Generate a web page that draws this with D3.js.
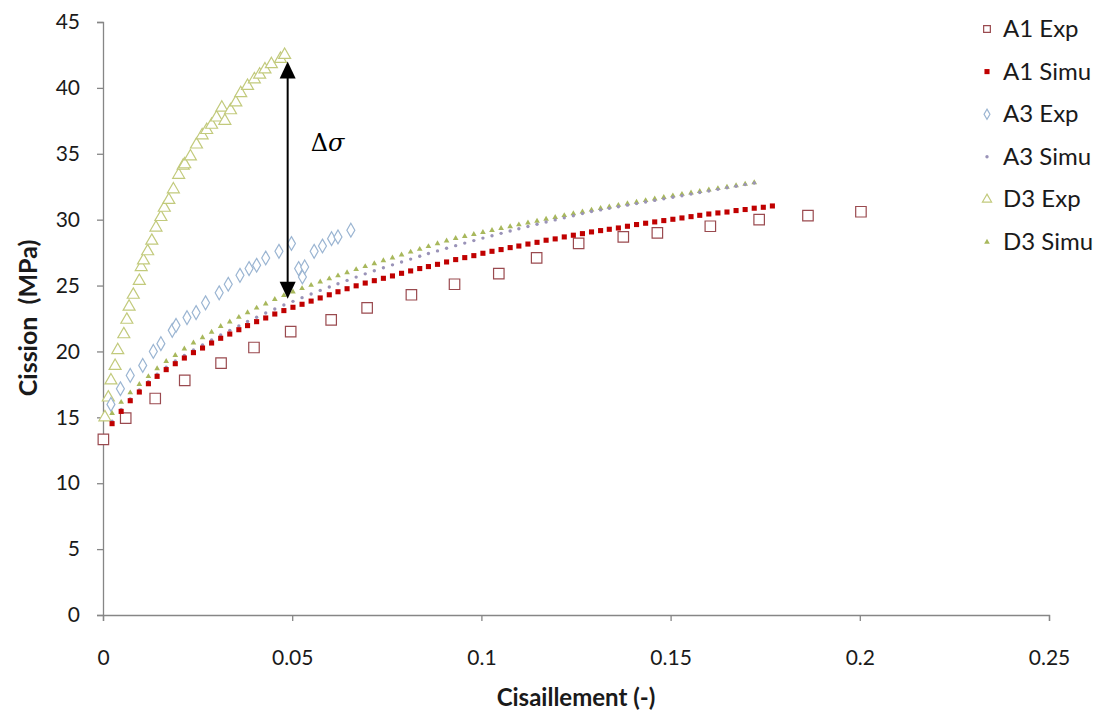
<!DOCTYPE html>
<html><head><meta charset="utf-8">
<script src="https://cdn.jsdelivr.net/npm/d3@7"></script>
<style>
html,body{margin:0;padding:0;background:#fff;}
svg{display:block;font-family:Lato,"Open Sans",sans-serif;}
</style></head>
<body>
<svg id="chart" width="1105" height="715"></svg>
<script>
// ---- Data ----
const xTicks = [0, 0.05, 0.1, 0.15, 0.2, 0.25];
const xTickLabels = ["0", "0.05", "0.1", "0.15", "0.2", "0.25"];
const yTicks = [0, 5, 10, 15, 20, 25, 30, 35, 40, 45];
const seriesNames = ["A1 Exp", "A1 Simu", "A3 Exp", "A3 Simu", "D3 Exp", "D3 Simu"];

const a1ExpX = [0.0001,0.006,0.0138,0.0216,0.0312,0.0399,0.0496,0.0603,0.0698,0.0815,0.0929,0.1046,0.1146,0.1257,0.1375,0.1465,0.1605,0.1734,0.1863,0.2003];
const a1ExpY = [13.33,14.94,16.43,17.8,19.12,20.3,21.5,22.4,23.3,24.3,25.1,25.9,27.1,28.2,28.7,29.0,29.5,30.0,30.3,30.6];

const a3ExpX = [0.0021,0.0046,0.0072,0.0105,0.0133,0.0153,0.0183,0.0193,0.0222,0.0246,0.0271,0.0307,0.0331,0.0362,0.0386,0.0406,0.0430,0.0465,0.0498,0.0517,0.0527,0.0533,0.0558,0.0580,0.0604,0.0621,0.0655];
const a3ExpY = [15.98,17.17,18.18,18.94,20.0,20.59,21.6,21.98,22.57,22.95,23.69,24.45,25.1,25.78,26.29,26.54,27.09,27.6,28.19,26.29,25.65,26.41,27.6,28.0,28.56,28.69,29.2];

const d3ExpX = [0.0005,0.0014,0.0021,0.0032,0.0039,0.0055,0.0063,0.0069,0.0080,0.0096,0.0101,0.0107,0.0118,0.0129,0.0140,0.0153,0.0162,0.0174,0.0186,0.0200,0.0212,0.0216,0.0231,0.0247,0.0262,0.0274,0.0287,0.0300,0.0314,0.0322,0.0337,0.0351,0.0364,0.0382,0.0400,0.0414,0.0428,0.0445,0.0469,0.0480];
const d3ExpY = [15.0,16.5,17.8,18.9,20.1,21.3,22.4,23.4,24.3,25.35,26.4,26.9,27.6,28.4,29.4,30.2,30.9,31.5,32.3,33.4,34.1,34.2,34.8,35.7,36.4,36.8,37.2,37.75,38.5,37.5,38.3,38.9,39.6,40.15,40.65,41.0,41.4,41.8,42.2,42.5];

// strain steps of the simulations (shared by the three simulated curves)
const simuX = [0.0024,0.0048,0.0072,0.0096,0.0120,0.0143,0.0167,0.0191,0.0215,0.0239,0.0263,0.0287,0.0311,0.0335,0.0359,0.0382,0.0406,0.0430,0.0454,0.0478,0.0502,0.0526,0.0550,0.0574,0.0598,0.0621,0.0645,0.0669,0.0693,0.0717,0.0741,0.0765,0.0789,0.0813,0.0837,0.0860,0.0884,0.0908,0.0932,0.0956,0.0980,0.1004,0.1028,0.1052,0.1076,0.1099,0.1123,0.1147,0.1171,0.1195,0.1219,0.1243,0.1267,0.1291,0.1315,0.1338,0.1362,0.1386,0.1410,0.1434,0.1458,0.1482,0.1506,0.1530,0.1554,0.1577,0.1601,0.1625,0.1649,0.1673,0.1697,0.1721,0.1745,0.1769];

const a1SimuY = [14.52,15.45,16.26,16.92,17.55,18.11,18.62,19.07,19.5,19.91,20.26,20.64,21.0,21.32,21.65,21.96,22.26,22.54,22.84,23.1,23.35,23.58,23.82,24.06,24.3,24.53,24.76,24.98,25.19,25.37,25.55,25.73,25.93,26.11,26.29,26.44,26.61,26.79,26.97,27.12,27.27,27.45,27.6,27.73,27.88,28.0,28.15,28.28,28.44,28.54,28.69,28.82,28.94,29.07,29.17,29.27,29.37,29.5,29.63,29.73,29.83,29.93,30.03,30.13,30.23,30.33,30.43,30.51,30.58,30.69,30.77,30.87,30.94,31.04];

const a3SimuY = [14.7,15.6,16.4,17.07,17.7,18.27,18.8,19.27,19.7,20.12,20.5,20.88,21.25,21.6,21.94,22.27,22.6,22.92,23.22,23.52,23.8,24.08,24.36,24.63,24.89,25.14,25.39,25.64,25.89,26.12,26.35,26.57,26.79,27.01,27.22,27.43,27.63,27.83,28.03,28.22,28.41,28.6,28.78,28.96,29.14,29.31,29.48,29.65,29.82,29.98,30.14,30.3,30.46,30.62,30.74,30.86,30.98,31.1,31.22,31.34,31.46,31.58,31.7,31.82,31.94,32.06,32.18,32.3,32.42,32.54,32.66,32.78];

const d3SimuY = [15.3,16.15,16.87,17.5,18.1,18.7,19.25,19.7,20.2,20.65,21.05,21.47,21.9,22.25,22.6,22.95,23.3,23.62,23.95,24.25,24.52,24.78,25.03,25.28,25.52,25.75,25.98,26.22,26.45,26.67,26.89,27.11,27.33,27.55,27.76,27.97,28.18,28.39,28.59,28.74,28.89,29.04,29.19,29.34,29.48,29.62,29.76,29.9,30.04,30.18,30.32,30.46,30.6,30.74,30.86,30.98,31.1,31.22,31.34,31.46,31.58,31.7,31.82,31.93,32.04,32.15,32.26,32.37,32.48,32.59,32.7,32.81];

// annotation (double arrow, Δσ)
const arrowX = 0.0488, arrowTop = 42.0, arrowBottom = 24.0;

// ---- Drawing ----
const svg = d3.select("#chart");
const x = d3.scaleLinear().domain([0, 0.25]).range([103, 1049]);
const y = d3.scaleLinear().domain([0, 45]).range([615, 22]);
const axisColor = "#868686";
const font = 'Lato,"Open Sans",sans-serif';

// axes
const gx = svg.append("g").attr("transform", `translate(0,${y(0)})`)
  .call(d3.axisBottom(x).tickValues(xTicks).tickFormat((d,i)=>xTickLabels[i]).tickSizeOuter(0).tickSize(6).tickPadding(29));
const gy = svg.append("g").attr("transform", `translate(${x(0)},0)`)
  .call(d3.axisLeft(y).tickValues(yTicks).tickSizeOuter(0).tickSize(6).tickPadding(17));
[gx, gy].forEach(g => {
  g.select(".domain").attr("stroke", axisColor).attr("stroke-width", 1.3);
  g.selectAll(".tick line").attr("stroke", axisColor).attr("stroke-width", 1.3);
  g.selectAll(".tick text").attr("fill", "#1a1a1a").style("font-size", "21px").style("font-family", font);
});

// axis titles
svg.append("text").attr("x", 576).attr("y", 706).attr("text-anchor", "middle")
  .style("font-family", font).style("font-size", "24px").style("font-weight", "bold").attr("fill", "#1a1a1a")
  .text("Cisaillement (-)");
svg.append("text").attr("transform", "translate(37,318) rotate(-90)").attr("text-anchor", "middle")
  .style("font-family", font).style("font-size", "25px").style("font-weight", "bold").attr("fill", "#1a1a1a")
  .attr("xml:space", "preserve").text("Cission  (MPa)");

const zip = (xs, ys) => xs.map((v, i) => [v, ys[i]]).filter(d => d[1] !== undefined);

const styles = {
  "A1 Exp":  {sym: d3.symbolSquare,   size: 110, fill: "#fff", stroke: "#9a4a4f", sw: 1.2},
  "A1 Simu": {sym: d3.symbolSquare,   size: 26, fill: "#c00000", stroke: "none", sw: 0},
  "A3 Exp":  {sym: d3.symbolDiamond,  size: 55, fill: "#fff", stroke: "#9bb5d2", sw: 1.2},
  "A3 Simu": {sym: d3.symbolCircle,   size: 9,  fill: "#9a93b8", stroke: "none", sw: 0},
  "D3 Exp":  {sym: d3.symbolTriangle, size: 62, fill: "#fff", stroke: "#c2ca7c", sw: 1.2},
  "D3 Simu": {sym: d3.symbolTriangle, size: 14, fill: "#a8b85c", stroke: "none", sw: 0}
};

const series = [
  ["D3 Exp", zip(d3ExpX, d3ExpY)],
  ["A3 Exp", zip(a3ExpX, a3ExpY)],
  ["A1 Exp", zip(a1ExpX, a1ExpY)],
  ["D3 Simu", zip(simuX, d3SimuY)],
  ["A3 Simu", zip(simuX, a3SimuY)],
  ["A1 Simu", zip(simuX, a1SimuY)]
];

series.forEach(([name, pts]) => {
  const s = styles[name];
  svg.append("g").selectAll("path").data(pts).join("path")
    .attr("transform", d => `translate(${x(d[0])},${y(d[1])})`)
    .attr("d", d3.symbol().type(s.sym).size(s.size))
    .attr("fill", s.fill).attr("stroke", s.stroke).attr("stroke-width", s.sw);
});

// legend
const leg = svg.append("g");
seriesNames.forEach((name, i) => {
  const s = styles[name];
  const yy = 29 + i * 42.6;
  let sz = s.size;
  if (name === "A1 Exp") sz = 45;
  if (name === "A3 Exp") sz = 30;
  if (name === "D3 Exp") sz = 36;
  leg.append("path").attr("transform", `translate(987,${yy})`)
    .attr("d", d3.symbol().type(s.sym).size(sz))
    .attr("fill", s.fill).attr("stroke", s.stroke).attr("stroke-width", s.sw);
  leg.append("text").attr("x", 1003).attr("y", yy + 8)
    .style("font-family", font).style("font-size", "24px").attr("fill", "#1a1a1a").text(name);
});

// double arrow annotation
const ax = x(arrowX), ayTop = y(arrowTop), ayBot = y(arrowBottom);
svg.append("line").attr("x1", ax).attr("x2", ax).attr("y1", ayTop + 14).attr("y2", ayBot - 14)
  .attr("stroke", "#000").attr("stroke-width", 2);
svg.append("path").attr("d", `M${ax},${ayTop} L${ax-8},${ayTop+17} L${ax+8},${ayTop+17} Z`).attr("fill", "#000");
svg.append("path").attr("d", `M${ax},${ayBot} L${ax-8},${ayBot-17} L${ax+8},${ayBot-17} Z`).attr("fill", "#000");
const lbl = svg.append("text").attr("x", ax + 23).attr("y", y(35.2))
  .style("font-family", '"DejaVu Serif","Liberation Serif",serif').style("font-size", "24px").attr("fill", "#000");
lbl.append("tspan").text("Δ");
lbl.append("tspan").style("font-style", "italic").text("σ");
</script>
</body></html>
